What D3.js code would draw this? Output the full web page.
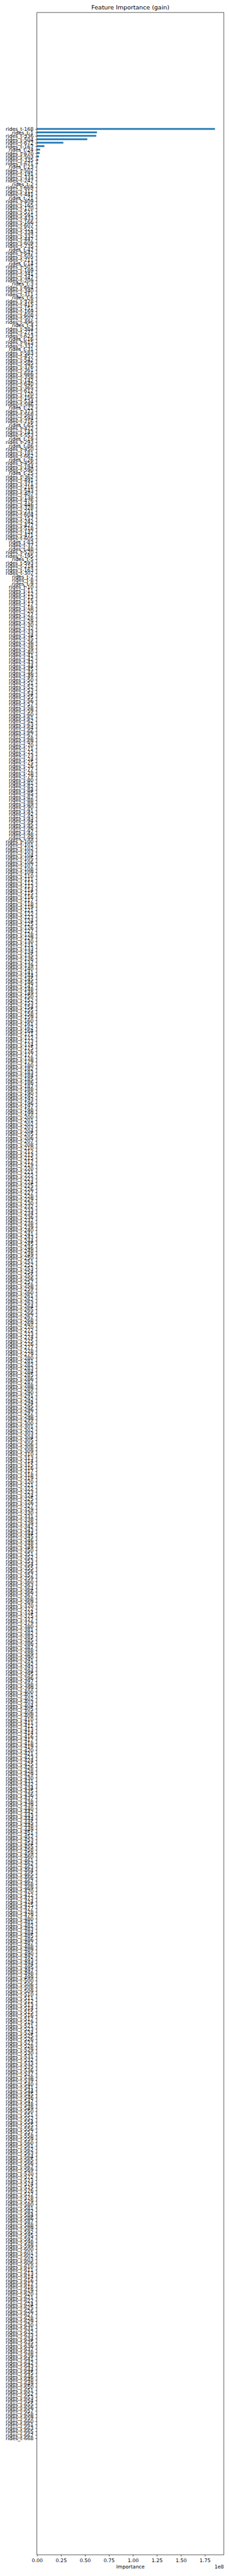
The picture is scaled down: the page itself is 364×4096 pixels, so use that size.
<!DOCTYPE html>
<html><head><meta charset="utf-8">
<script src="https://cdn.jsdelivr.net/npm/d3@7"></script>
<style>html,body{margin:0;padding:0;background:#fff;}svg{display:block;}</style>
</head><body>
<script>
const lagsRead = [168,1,336,504,672,167,24,670,503,335,671,23,502,191,333,247,2,669,312,441,
21,409,165,170,571,591,433,166,607,522,334,332,447,609,235,47,647,505,211,14,
501,189,341,347,209,3,664,340,311,6,378,415,151,169,608,507,496,4,384,271,
623,16,615,337,31,583,457,542,585,376,361,666,358,142,640,365,612,120,156,534,
596,22,373,568,594,216,65,422,143,553,19,293,86,450,181,662,26,456,194,590,
25,362,491,371,218,543,407,138,476,446,328,231,604,157,242,427,518,132,471,605,
83,37,48,520,195,5,593,214,163,307];
// draft placeholder for the not-yet-read labels
const lagsRest = d3.range(1,673).filter(v=>!lagsRead.includes(v));
const features = lagsRead.concat(lagsRest).map(v=>"rides_t-"+v);
const topGains = [1.856e8,0.6257e8,0.6183e8,0.525e8,0.275e8,0.0772e8,0.0325e8,0.0287e8,0.0213e8,0.0138e8,0.0101e8];
const gains = features.map((f,i)=> i<topGains.length? topGains[i] : 0);
const xTicks = [0,0.25e8,0.5e8,0.75e8,1.0e8,1.25e8,1.5e8,1.75e8];

const k = 364/640;
const W = 640*k, H = 7200*k;
const L = 103.3*k, R = 625.7*k, T = 35*k, B = 7142.3*k;
const n = features.length;
const fs = 13.89*k;
const svg = d3.select("body").append("svg").attr("width",W).attr("height",H)
  .style("font-family","'DejaVu Sans', sans-serif");

const x = d3.scaleLinear().domain([0, d3.max(gains)*1.05]).range([L,R]);
const pad = 0.05*(n-0.5);
const y = d3.scaleLinear().domain([-0.25-pad, n-0.75+pad]).range([T,B]);

svg.append("g").selectAll("rect").data(gains).join("rect")
  .attr("x", x(0)).attr("y",(d,i)=>y(i-0.25))
  .attr("width", d=>x(d)-x(0)).attr("height",(d,i)=>y(i+0.25)-y(i-0.25))
  .attr("fill","#1f77b4");

const tl = 4.861*k, tp = 4.861*k, lw = 1.11*k;
const yAxis = d3.axisLeft(y).tickValues(d3.range(n)).tickFormat(i=>features[i])
  .tickSize(tl).tickPadding(tp);
const gy = svg.append("g").attr("transform",`translate(${L},0)`).call(yAxis);
gy.select(".domain").remove();
gy.selectAll("line").attr("stroke","#000").attr("stroke-width",lw);
gy.selectAll("text").attr("font-size",fs).attr("fill","#000").attr("dy","0.34em")
  .style("font-family","'DejaVu Sans', sans-serif");

const xAxis = d3.axisBottom(x).tickValues(xTicks).tickFormat(v=>(v/1e8).toFixed(2))
  .tickSize(tl).tickPadding(tp);
const gx = svg.append("g").attr("transform",`translate(0,${B})`).call(xAxis);
gx.select(".domain").remove();
gx.selectAll("line").attr("stroke","#000").attr("stroke-width",lw);
gx.selectAll("text").attr("font-size",fs).attr("fill","#000").attr("dy","0.76em")
  .style("font-family","'DejaVu Sans', sans-serif");

svg.append("rect").attr("x",L).attr("y",T).attr("width",R-L).attr("height",B-T)
  .attr("fill","none").attr("stroke","#000").attr("stroke-width",lw);

svg.append("text").attr("x",(L+R)/2).attr("y",26.7*k).attr("text-anchor","middle")
  .attr("font-size",16.67*k).text("Feature Importance (gain)");
svg.append("text").attr("x",(L+R)/2).attr("y",7181*k).attr("text-anchor","middle")
  .attr("font-size",fs).text("Importance");
svg.append("text").attr("x",R).attr("y",7181.5*k).attr("text-anchor","end")
  .attr("font-size",fs).text("1e8");
</script>
</body></html>
